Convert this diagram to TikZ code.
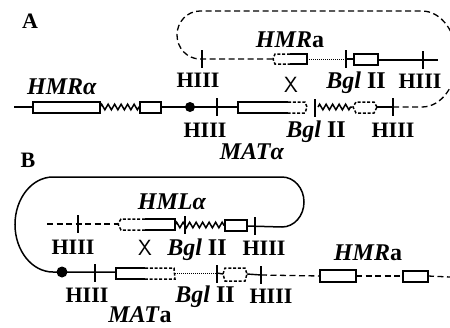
\documentclass[tikz,border=0pt]{standalone}
\usepackage{fontspec}
\usepackage{xcolor}
\usepackage{tikz}
\usetikzlibrary{decorations.pathmorphing}
\setmainfont{Liberation Serif}
\tikzset{
  lab/.style={inner sep=0pt, font=\fontsize{22}{24}\selectfont\bfseries},
  genelab/.style={inner sep=0pt, font=\fontsize{24}{26}\selectfont\bfseries},
  cross/.style={inner sep=0pt, font=\fontsize{22}{24}\selectfont\sffamily},
  strand/.style={line width=1.4pt},
  gene/.style={line width=1.9pt},
  genedash/.style={line width=1.5pt, dash pattern=on 3pt off 1.8pt},
  spring/.style={line width=1.5pt, decorate, decoration={zigzag, amplitude=2.8pt, segment length=6.5pt}},
  dotline/.style={line width=0.9pt, dash pattern=on 1pt off 1pt},
  dashline/.style={line width=1.3pt, dash pattern=on 6pt off 3.5pt}
}
\newcommand{\bglii}{\textit{Bgl} II}
\begin{document}
\begin{tikzpicture}[x=1pt,y=-1pt]
      \clip (0,0) rectangle (450,327);
      % panel A
      \node[lab] (panelA) at (30,21) {A};
      \draw[strand] (14,107) -- (33,107);
      \draw[gene] (33,102) rectangle (100,113);
      \draw[spring] (100,107) -- (140,107);
      \draw[gene] (140,102) rectangle (161,113);
      \draw[strand] (161,107) -- (238,107);
      \fill (190,107) circle (5);
      \draw[gene] (288,102) -- (238,102) -- (238,113) -- (288,113);
      \draw[genedash] (288,102) -- (305,102) -- (307,107) -- (305,113) -- (288,113);
      \draw[spring] (318,107) -- (352,107);
      \draw[genedash] (377,107) -- (374,102) -- (356,102) -- (353,107) -- (356,113) -- (374,113) -- cycle;
      \draw[strand] (377,107) -- (393,107);
      \draw[dashline] (393,107) -- (422,107) arc[start angle=90, end angle=-90, x radius=35, y radius=48]
        -- (200,11) arc[start angle=-90, end angle=-270, x radius=23, y radius=24] -- (272,59);
      \draw[genedash] (290,54) -- (275,54) -- (273,59) -- (275,64) -- (290,64);
      \draw[gene] (290,54) -- (307,54) -- (307,64) -- (290,64);
      \draw[dotline] (307,59) -- (346,59);
      \draw[strand] (346,59) -- (354,59);
      \draw[gene] (354,54) rectangle (378,65);
      \draw[strand] (378,60) -- (438,60);
      % panel B
      \node[lab] (panelB) at (28,160) {B};
      \draw[line width=1.5pt] (116,272) -- (53,272) arc[start angle=90, end angle=270, x radius=38, y radius=47.5]
        -- (282,177) arc[start angle=-90, end angle=90, x radius=22, y radius=25] -- (247,226);
      \fill (62,272) circle (5.5);
      \draw[gene] (145,268) -- (116,268) -- (116,279) -- (145,279);
      \draw[genedash] (145,268) -- (174,268) -- (175,279) -- (145,279);
      \draw[dotline] (175,273) -- (217,273);
      \draw[genedash] (223,274) -- (225,268) -- (245,268) -- (247,274) -- (245,281) -- (225,281) -- cycle;
      \draw[strand] (217,273) -- (223,274) (247,274) -- (261,275);
      \draw[dashline] (261,275) -- (320,276);
      \draw[gene] (320,270) rectangle (356,282);
      \draw[dashline] (356,276) -- (403,276);
      \draw[gene] (403,271) rectangle (428,282);
      \draw[dashline] (428,276) -- (450,277);
      \draw[dashline] (47,224) -- (118,224);
      \draw[genedash] (145,219) -- (121,219) -- (118,224) -- (121,230) -- (145,230);
      \draw[gene] (145,219) -- (175,219) -- (175,230) -- (145,230);
      \draw[spring] (175,225) -- (225,225);
      \draw[gene] (225,220) rectangle (247,231);
      % restriction sites
      \foreach \x/\y in {217/107, 315/108, 393/107, 202/59, 346/59, 423/60, 95/273, 78/224, 185/225, 255/226, 217/274, 261/275} {
        \draw[line width=1.2pt] (\x,\y-9) -- (\x,\y+9);
      }
      % labels
      \foreach \x/\y/\n in {198/80/a, 205/130/b, 393/130/c, 420/81/d, 73/247/e, 264/248/f, 87/295/g, 271/296/h} {
        \node[lab] (hiii\n) at (\x,\y) {HIII};
      }
      \foreach \x/\y/\n in {356/83/a, 316/132/b, 197/250/c, 205/297/d} {
        \node[genelab] (bgl\n) at (\x,\y) {\bglii};
      }
      \node[genelab] (hmrA) at (62,87) {\textit{HMRα}};
      \node[genelab] (hmrB) at (290,40) {\textit{HMR}a};
      \node[genelab] (hmlB) at (172,202) {\textit{HMLα}};
      \node[genelab] (hmrC) at (368,253) {\textit{HMR}a};
      \node[genelab] (matA) at (252,152) {\textit{MATα}};
      \node[genelab] (matB) at (140,315) {\textit{MAT}a};
      \node[cross] (crossA) at (291,85) {X};
      \node[cross] (crossB) at (145,248) {X};
    \end{tikzpicture}
\end{document}
